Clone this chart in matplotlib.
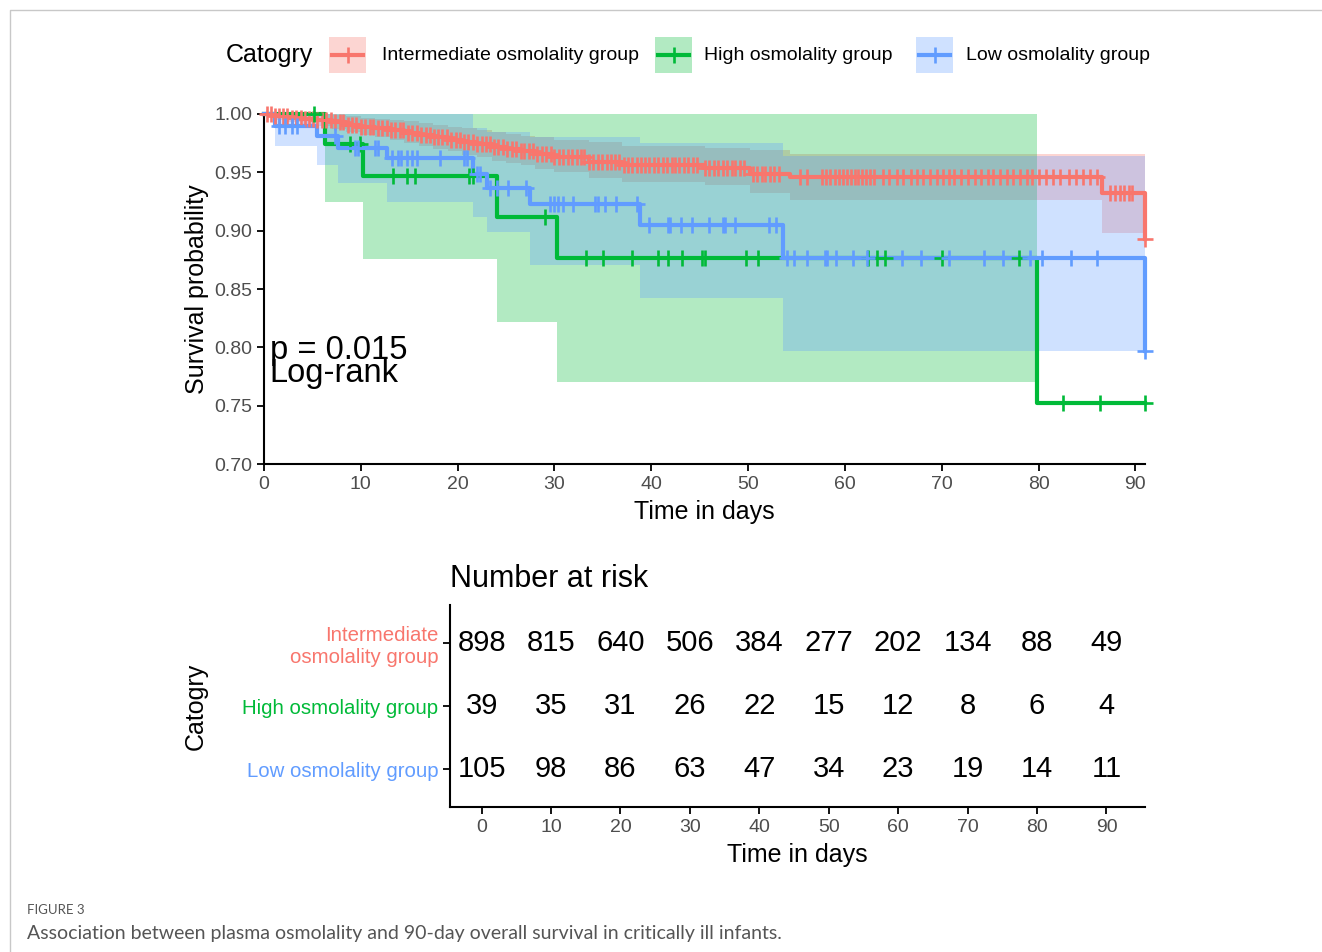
import numpy as np
import matplotlib
matplotlib.use('Agg')
import matplotlib.pyplot as plt
from matplotlib.patches import Rectangle

plt.rcParams['font.family'] = ['Liberation Sans', 'DejaVu Sans']

# groups, in legend order
groups = ['Intermediate osmolality group', 'High osmolality group', 'Low osmolality group']
colors = ['#F8766D', '#00BA38', '#619CFF']

# Kaplan-Meier steps (time, survival, CI upper, CI lower)
red_t = [0, 1.0, 2.5, 4.0, 5.5, 7.0, 8.5, 10.0, 11.5, 13.0, 14.5, 16.0, 17.5, 19.0,
         20.5, 22.0, 23.5, 25.0, 26.5, 28.0, 30.0, 33.6, 37.0, 45.5, 50.2, 54.3, 86.6, 91.0]
red_s = [1.0, 0.998, 0.997, 0.996, 0.995, 0.993, 0.991, 0.989, 0.988, 0.986, 0.984, 0.982,
         0.980, 0.978, 0.976, 0.974, 0.972, 0.970, 0.968, 0.966, 0.963, 0.959, 0.956, 0.954,
         0.949, 0.946, 0.932, 0.893]
red_up = [1.0, 1.0, 1.0, 1.0, 1.0, 0.999, 0.998, 0.997, 0.996, 0.995, 0.994, 0.992, 0.991,
          0.989, 0.988, 0.986, 0.985, 0.983, 0.981, 0.980, 0.978, 0.976, 0.973, 0.971, 0.969,
          0.966, 0.966, 0.966]
red_lo = [1.0, 0.995, 0.993, 0.991, 0.990, 0.987, 0.985, 0.982, 0.980, 0.978, 0.975, 0.973,
          0.970, 0.968, 0.965, 0.963, 0.960, 0.958, 0.956, 0.953, 0.950, 0.945, 0.942, 0.939,
          0.932, 0.926, 0.898, 0.898]
red_cens = [0.3, 0.7, 1.1, 1.5, 2.0, 2.4, 2.9, 3.3, 3.8, 4.2, 4.6, 5.1, 5.5, 6.0, 6.4, 6.9,
            7.3, 7.8, 8.2, 8.7, 9.1, 9.5, 10.0, 10.4, 10.9, 11.3, 11.8, 12.2, 12.7, 13.1, 13.5,
            14.0, 14.4, 14.9, 15.3, 15.8, 16.2, 16.7, 17.1, 17.6, 18.0, 18.4, 18.9, 19.3, 19.8,
            20.2, 20.7, 21.1, 21.6, 22.0, 22.5, 22.9, 23.3, 23.8, 24.2, 24.7, 25.1, 25.6, 26.0,
            26.5, 26.9, 27.4, 27.8, 28.2, 28.7, 29.1, 29.6, 30.0, 30.5, 30.9, 31.4, 31.8, 32.3,
            32.7, 33.1, 33.6, 34.0, 34.5, 34.9, 35.4, 35.8, 36.3, 36.7, 37.2, 37.6, 38.0, 38.5,
            38.9, 39.4, 39.8, 40.3, 40.7, 41.2, 41.6, 42.1, 42.5, 42.9, 43.4, 43.8, 44.3, 44.7,
            45.6, 46.0, 46.5, 46.9, 47.4, 47.8, 48.3, 48.7, 49.2, 49.6, 50.5, 50.9, 51.4, 51.8,
            52.3, 52.7, 53.2, 55.4, 56.1, 57.6, 58.0, 58.5, 59.0, 59.4, 59.8, 60.2, 60.6, 61.0,
            61.4, 61.8, 62.2, 62.6, 63.0, 63.9, 64.6, 65.4, 66.0, 66.8, 67.5, 68.1, 68.8, 69.5,
            70.1, 70.8, 71.3, 72.0, 72.7, 73.4, 74.1, 74.8, 75.3, 76.0, 76.7, 77.4, 78.1, 78.8,
            79.3, 80.1, 80.8, 81.5, 82.2, 83.2, 83.9, 84.6, 85.3, 86.0, 87.4, 87.9, 88.4, 88.8,
            89.3, 89.7, 91.0]

green_t = [0, 6.3, 10.2, 24.1, 30.3, 79.8, 91.0]
green_s = [1.0, 0.974, 0.947, 0.912, 0.877, 0.752, 0.752]
green_up = [1.0, 1.0, 1.0, 1.0, 1.0, 1.0, np.nan]
green_lo = [1.0, 0.925, 0.876, 0.822, 0.770, 0.770, np.nan]
green_cens = [5.2, 8.9, 9.9, 13.3, 14.8, 15.6, 21.2, 21.6, 29.0, 33.3, 35.0, 38.0, 40.7,
              41.7, 43.2, 45.2, 45.5, 49.8, 51.0, 62.4, 63.3, 64.1, 70.0, 78.0, 82.5, 86.4, 91.0]

blue_t = [0, 1.1, 5.5, 7.6, 12.7, 21.6, 23.0, 27.5, 38.8, 53.6, 91.0]
blue_s = [1.0, 0.990, 0.981, 0.971, 0.962, 0.949, 0.937, 0.923, 0.905, 0.877, 0.797]
blue_up = [1.0, 1.0, 1.0, 1.0, 1.0, 0.988, 0.985, 0.980, 0.975, 0.964, 0.964]
blue_lo = [1.0, 0.973, 0.956, 0.941, 0.925, 0.912, 0.899, 0.871, 0.842, 0.797, 0.797]
blue_cens = [1.5, 2.2, 2.9, 3.4, 7.3, 9.4, 9.7, 11.5, 11.8, 13.2, 13.8, 14.2, 14.8, 15.3,
             15.8, 18.2, 20.7, 21.0, 22.0, 22.3, 23.3, 24.1, 25.2, 27.1, 29.5, 30.0, 30.4,
             30.9, 31.9, 34.2, 34.5, 35.2, 36.4, 38.5, 39.8, 41.7, 41.9, 43.1, 44.2, 46.0,
             47.4, 47.6, 48.6, 52.2, 52.9, 54.0, 54.7, 56.1, 57.9, 58.2, 59.1, 60.8, 62.3,
             65.9, 67.9, 70.8, 74.4, 76.3, 79.1, 80.4, 83.4, 86.0, 91.0]

# number at risk table
risk_times = [0, 10, 20, 30, 40, 50, 60, 70, 80, 90]
risk_red = [898, 815, 640, 506, 384, 277, 202, 134, 88, 49]
risk_green = [39, 35, 31, 26, 22, 15, 12, 8, 6, 4]
risk_blue = [105, 98, 86, 63, 47, 34, 23, 19, 14, 11]

curves = [
    (red_t, red_s, red_up, red_lo, red_cens),
    (green_t, green_s, green_up, green_lo, green_cens),
    (blue_t, blue_s, blue_up, blue_lo, blue_cens),
]

tick_grey = '#4D4D4D'

fig = plt.figure(figsize=(13.22, 9.52), dpi=100)

# overlay in pixel coords for border, legend and caption
bg = fig.add_axes([0, 0, 1, 1])
bg.set_xlim(0, 1322)
bg.set_ylim(952, 0)
bg.axis('off')
bg.plot([10, 10, 1322], [952, 10, 10], color='#c8c8c8', lw=1)

# survival plot
ax = fig.add_axes([264 / 1322, 1 - 464 / 952, 881 / 1322, 350 / 952])
for (t, s, up, lo, cens), c in zip(curves, colors):
    t = np.array(t)
    up = np.array(up)
    lo = np.array(lo)
    ok = ~np.isnan(up)
    ax.fill_between(t[ok], lo[ok], up[ok], step='post', color=c, alpha=0.3, lw=0)
for (t, s, up, lo, cens), c in zip(curves, colors):
    ax.step(t, s, where='post', color=c, lw=3, clip_on=False, zorder=3)
    idx = np.searchsorted(t, cens, side='right') - 1
    ax.plot(cens, np.array(s)[idx], ls='none', marker='+', ms=11, mew=1.9,
            color=c, clip_on=False, zorder=4)

ax.set_xlim(0, 91)
ax.set_ylim(0.70, 1.00)
ax.set_xticks(range(0, 91, 10))
ax.set_yticks([0.70, 0.75, 0.80, 0.85, 0.90, 0.95, 1.00])
ax.set_yticklabels(['%.2f' % v for v in [0.70, 0.75, 0.80, 0.85, 0.90, 0.95, 1.00]])
ax.tick_params(length=5, width=1.3, labelsize=14, labelcolor=tick_grey)
for sp in ['top', 'right']:
    ax.spines[sp].set_visible(False)
for sp in ['left', 'bottom']:
    ax.spines[sp].set_linewidth(1.5)
ax.set_xlabel('Time in days', size=18, labelpad=5)
ax.set_ylabel('Survival probability', size=18, labelpad=4)
ax.text(0.6, 0.790, 'p = 0.015', size=23.5, va='baseline')
ax.text(0.6, 0.770, 'Log-rank', size=23.5, va='baseline')

# legend across the top
bg.text(226, 55, 'Catogry', size=18, va='center')
key_x = [329, 655, 916]
lab_x = [382, 704, 966]
for g, c, kx, lx in zip(groups, colors, key_x, lab_x):
    bg.add_patch(Rectangle((kx, 37), 37, 36, facecolor=c, alpha=0.3, lw=0))
    bg.plot([kx + 3, kx + 34], [55, 55], color=c, lw=3)
    bg.plot([kx + 18.5], [55], marker='+', ms=11, mew=1.9, color=c)
    bg.text(lx, 55, g, size=14, va='center')

# number at risk table
tab = fig.add_axes([450 / 1322, 1 - 807 / 952, 695 / 1322, 202 / 952])
rows = [3, 2, 1]
for r, counts in zip(rows, [risk_red, risk_green, risk_blue]):
    for t, n in zip(risk_times, counts):
        tab.text(t, r, str(n), ha='center', va='center', size=21)
tab.set_xlim(-4.55, 95.55)
tab.set_ylim(0.4, 3.6)
tab.set_xticks(risk_times)
tab.set_yticks(rows)
tab.set_yticklabels(['Intermediate\nosmolality group', 'High osmolality group',
                     'Low osmolality group'])
for lab, c in zip(tab.get_yticklabels(), colors):
    lab.set_color(c)
tab.tick_params(length=5, width=1.3, labelsize=14)
tab.tick_params(axis='y', labelsize=14.7)
tab.tick_params(axis='x', labelcolor=tick_grey)
for sp in ['top', 'right']:
    tab.spines[sp].set_visible(False)
for sp in ['left', 'bottom']:
    tab.spines[sp].set_linewidth(1.5)
tab.set_xlabel('Time in days', size=18, labelpad=5)
tab.set_ylabel('Catogry', size=18, labelpad=25)
tab.set_title('Number at risk', loc='left', size=22, pad=13)

# caption
bg.text(27, 910, 'FIGURE 3', size=9.5, color='#555555', va='center', family='Lato')
bg.text(27, 933, 'Association between plasma osmolality and 90-day overall survival '
        'in critically ill infants.', size=14, color='#555555', va='center', family='Lato')

fig.savefig('out.png', dpi=100)
